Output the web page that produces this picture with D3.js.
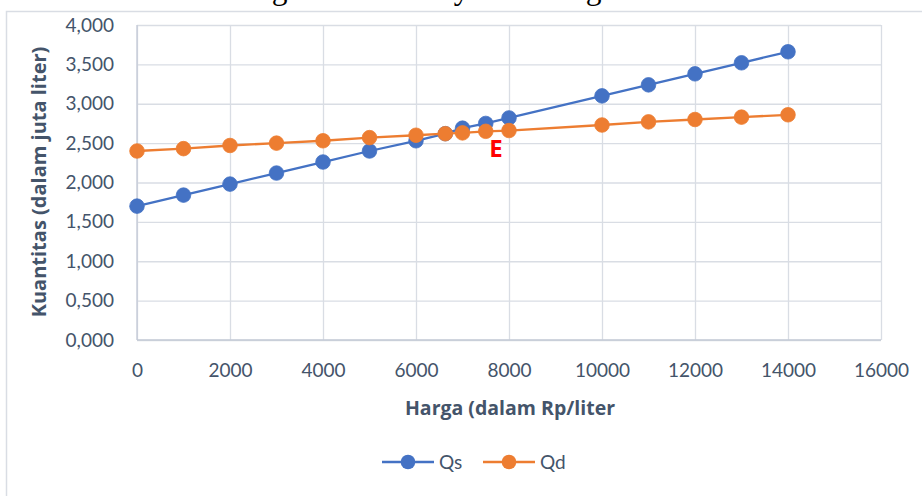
<!DOCTYPE html>
<html>
<head>
<meta charset="utf-8">
<script src="https://cdn.jsdelivr.net/npm/d3@7"></script>
<style>
  html, body { margin: 0; padding: 0; background: #ffffff; overflow: hidden; }
  svg { display: block; }
  text { font-family: Lato, "Open Sans", "Noto Sans", sans-serif; }
</style>
</head>
<body>
<svg id="chart" width="922" height="496"></svg>
<script>
// Harga (Rp/liter) and quantities (juta liter)
const harga = [0, 1000, 2000, 3000, 4000, 5000, 6000, 6630, 7000, 7500, 8000, 10000, 11000, 12000, 13000, 14000];
const qs    = [1.700, 1.840, 1.980, 2.120, 2.260, 2.400, 2.530, 2.620, 2.690, 2.750, 2.820, 3.100, 3.240, 3.380, 3.520, 3.660];
const qd    = [2.400, 2.430, 2.470, 2.500, 2.530, 2.570, 2.600, 2.620, 2.630, 2.650, 2.660, 2.730, 2.770, 2.800, 2.830, 2.860];

const seriesNames = ["Qs", "Qd"];
const seriesColors = ["#4472C4", "#ED7D31"];

const xTicks = [0, 2000, 4000, 6000, 8000, 10000, 12000, 14000, 16000];
const yTicks = [0, 0.5, 1, 1.5, 2, 2.5, 3, 3.5, 4];

const titleText = "Keseimbangan Pasar Minyak Goreng Curah";
const xTitle = "Harga (dalam Rp/liter";
const yTitle = "Kuantitas (dalam juta liter)";
const eqLabel = "E";
const eqLabelPos = [7720, 2.33];

const idLocale = d3.formatLocale({ decimal: ",", thousands: ".", grouping: [3], currency: ["Rp", ""] });
const fmtY = idLocale.format(".3f");
const fmtX = d3.format("d");

const svg = d3.select("#chart");
const textColor = "#44546A";
const gridColor = "#D9DDE4";
const titleFont = "'Open Sans', 'Noto Sans', sans-serif";

// figure caption above the chart box; only its lowest strokes fall inside the page
svg.append("text")
  .attr("x", 130).attr("y", -1)
  .attr("font-family", "Liberation Serif")
  .attr("font-size", 31.5)
  .attr("font-weight", "normal")
  .style("font-family", "'Liberation Serif', serif")
  .attr("fill", "#000")
  .text(titleText);

// chart frame
svg.append("rect")
  .attr("x", 6.5).attr("y", 11.5)
  .attr("width", 1000).attr("height", 700)
  .attr("fill", "#fff")
  .attr("stroke", gridColor).attr("stroke-width", 1.5);

const x = d3.scaleLinear().domain([0, 16000]).range([137, 881]);
const y = d3.scaleLinear().domain([0, 4]).range([340, 25]);

// horizontal gridlines + y tick labels
svg.append("g").attr("transform", `translate(${x(0)},0)`)
  .call(d3.axisLeft(y).tickValues(yTicks).tickSize(-(x(16000) - x(0))).tickFormat(fmtY).tickPadding(23))
  .call(g => g.select(".domain").remove())
  .call(g => g.selectAll(".tick line").attr("stroke", gridColor).attr("stroke-width", 1.3))
  .call(g => g.selectAll(".tick text").attr("fill", textColor)
     .style("font-size", "19px").style("font-family", "Lato, 'Open Sans', sans-serif"));

// vertical gridlines + x tick labels
svg.append("g").attr("transform", `translate(0,${y(0)})`)
  .call(d3.axisBottom(x).tickValues(xTicks).tickSize(-(y(0) - y(4))).tickFormat(fmtX).tickPadding(24))
  .call(g => g.select(".domain").remove())
  .call(g => g.selectAll(".tick line").attr("stroke", gridColor).attr("stroke-width", 1.3))
  .call(g => g.selectAll(".tick text").attr("fill", textColor)
     .style("font-size", "19px").style("font-family", "Lato, 'Open Sans', sans-serif"));

// axis lines
svg.append("line")
  .attr("x1", x(0)).attr("x2", x(0)).attr("y1", y(0)).attr("y2", y(4))
  .attr("stroke", "#C3CAD6").attr("stroke-width", 1.3);
svg.append("line")
  .attr("x1", x(0)).attr("x2", x(16000)).attr("y1", y(0)).attr("y2", y(0))
  .attr("stroke", "#C3CAD6").attr("stroke-width", 1.3);

// axis titles
svg.append("text")
  .attr("x", 510).attr("y", 415)
  .attr("text-anchor", "middle")
  .attr("fill", textColor)
  .style("font-family", titleFont)
  .style("font-size", "19.5px").style("font-weight", "bold")
  .text(xTitle);

svg.append("text")
  .attr("transform", "translate(46,182) rotate(-90)")
  .attr("text-anchor", "middle")
  .attr("fill", textColor)
  .style("font-family", titleFont)
  .style("font-size", "20px").style("font-weight", "bold")
  .text(yTitle);

// series
const series = [qs, qd].map((vals, i) => ({
  name: seriesNames[i], color: seriesColors[i],
  points: harga.map((h, j) => ({ h, q: vals[j] }))
}));

const line = d3.line().x(d => x(d.h)).y(d => y(d.q));

series.forEach(s => {
  const g = svg.append("g");
  g.append("path").datum(s.points)
    .attr("d", line).attr("fill", "none")
    .attr("stroke", s.color).attr("stroke-width", 2.3);
  g.selectAll("circle").data(s.points).join("circle")
    .attr("cx", d => x(d.h)).attr("cy", d => y(d.q)).attr("r", 7.3)
    .attr("fill", s.color).attr("stroke", s.color).attr("stroke-width", 0.8);
});

// equilibrium label
svg.append("text")
  .attr("x", x(eqLabelPos[0])).attr("y", y(eqLabelPos[1]))
  .attr("text-anchor", "middle")
  .attr("fill", "#FF0000")
  .style("font-family", titleFont)
  .style("font-size", "24px").style("font-weight", "bold")
  .text(eqLabel);

// legend
const legendX = [382, 483];
const legend = svg.append("g");
series.forEach((s, i) => {
  const lx = legendX[i];
  legend.append("line")
    .attr("x1", lx).attr("x2", lx + 52).attr("y1", 462).attr("y2", 462)
    .attr("stroke", s.color).attr("stroke-width", 2.3);
  legend.append("circle")
    .attr("cx", lx + 26).attr("cy", 462).attr("r", 7.3)
    .attr("fill", s.color);
  legend.append("text")
    .attr("x", lx + 57).attr("y", 469)
    .attr("fill", textColor)
    .style("font-size", "19px")
    .text(s.name);
});
</script>
</body>
</html>
